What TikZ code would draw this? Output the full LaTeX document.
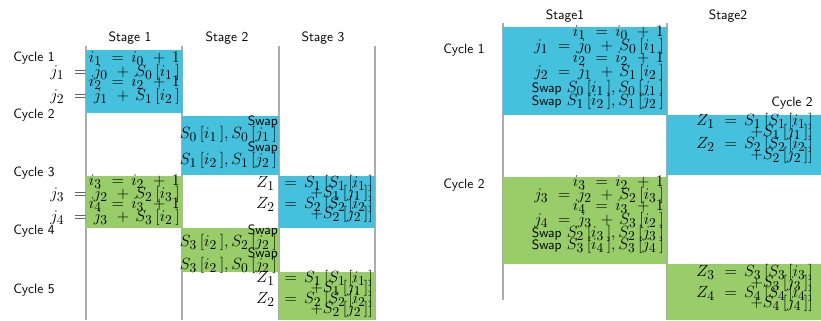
\documentclass[tikz,border=0pt]{standalone}
\usepackage{fontspec}
\definecolor{stageblue}{RGB}{70,193,221}
\definecolor{stagegreen}{RGB}{152,205,106}
\DeclareMathSizes{12}{12}{10}{8}
\thickmuskip=8mu plus 2mu
\medmuskip=7mu plus 2mu
\scriptspace=2.5pt
\begin{document}
\begin{tikzpicture}[x=0.74pt,y=-0.74pt,
    col/.style={draw=gray!65,line width=1.3pt},
    blubox/.style={fill=stageblue},
    grnbox/.style={fill=stagegreen},
    lbl/.style={font=\sffamily,inner sep=0pt},
    eq/.style={anchor=east,inner sep=0pt,font=\fontsize{12}{12}\selectfont}]
    \useasboundingbox (0,0) rectangle (821,320);
    % left schedule
    \foreach \xc in {86,182,279,375}
        \draw[col] (\xc,46) -- (\xc,320);
    \node[lbl] (ls1) at (130,38) {Stage 1};
    \node[lbl] (ls2) at (227,38) {Stage 2};
    \node[lbl] (ls3) at (323,38) {Stage 3};
    \node[lbl,anchor=west] (lc1) at (13,58) {Cycle 1};
    \node[lbl,anchor=west] (lc2) at (13,115) {Cycle 2};
    \node[lbl,anchor=west] (lc3) at (13,173) {Cycle 3};
    \node[lbl,anchor=west] (lc4) at (13,231) {Cycle 4};
    \node[lbl,anchor=west] (lc5) at (13,290) {Cycle 5};
    \fill[blubox] (86,50) rectangle (183,113);
    \fill[blubox] (182,116) rectangle (279,175);
    \fill[blubox] (279,176) rectangle (375,228);
    \fill[grnbox] (86,176) rectangle (183,228);
    \fill[grnbox] (182,228) rectangle (279,272);
    \fill[grnbox] (279,272) rectangle (375,320);
    % stage 1
    \node[eq] (la1) at (180,59) {$i_1 = i_0 + 1$};
    \node[eq] (la2) at (180,72) {$j_1 = j_0 + S_0[i_1]$};
    \node[eq] (la3) at (180,83) {$i_2 = i_2 + 1$};
    \node[eq] (la4) at (180,96) {$j_2 = j_1 + S_1[i_2]$};
    \node[eq] (ld1) at (180,182) {$i_3 = i_2 + 1$};
    \node[eq] (ld2) at (180,194) {$j_3 = j_2 + S_2[i_3]$};
    \node[eq] (ld3) at (180,205) {$i_4 = i_3 + 1$};
    \node[eq] (ld4) at (180,217) {$j_4 = j_3 + S_3[i_2]$};
    % stage 2
    \node[lbl,anchor=east] (lb1) at (278,122) {Swap};
    \node[eq] (lb2) at (277,134) {$S_0[i_1], S_0[j_1]$};
    \node[lbl,anchor=east] (lb3) at (278,148) {Swap};
    \node[eq] (lb4) at (277,160) {$S_1[i_2], S_1[j_2]$};
    \node[lbl,anchor=east] (le1) at (278,231) {Swap};
    \node[eq] (le2) at (277,242) {$S_3[i_2], S_2[j_2]$};
    \node[lbl,anchor=east] (le3) at (278,254) {Swap};
    \node[eq] (le4) at (277,265) {$S_3[i_2], S_0[j_2]$};
    % stage 3
    \node[eq] (lc1z) at (373,183) {$Z_1 = S_1[S_1[i_1]$};
    \node[eq] (lc2z) at (373,193) {$+S_1[j_1]]$};
    \node[eq] (lc3z) at (373,204) {$Z_2 = S_2[S_2[i_2]$};
    \node[eq] (lc4z) at (373,214) {$+S_2[j_2]]$};
    \node[eq] (lf1) at (373,278) {$Z_1 = S_1[S_1[i_1]$};
    \node[eq] (lf2) at (373,288) {$+S_1[j_1]]$};
    \node[eq] (lf3) at (373,299) {$Z_2 = S_2[S_2[i_2]$};
    \node[eq] (lf4) at (373,309) {$+S_2[j_2]]$};
    % right schedule
    \draw[col] (503,23) -- (503,300);
    \draw[col] (667,23) -- (667,320);
    \node[lbl] (rs1) at (565,16) {Stage1};
    \node[lbl] (rs2) at (728,16) {Stage2};
    \node[lbl,anchor=west] (rc1) at (443,50) {Cycle 1};
    \node[lbl,anchor=east] (rc2a) at (813,103) {Cycle 2};
    \node[lbl,anchor=west] (rc2b) at (443,185) {Cycle 2};
    \fill[blubox] (503,27) rectangle (667,115);
    \fill[blubox] (667,115) rectangle (821,175);
    \fill[grnbox] (503,177) rectangle (667,264);
    \fill[grnbox] (667,264) rectangle (821,320);
    \node[eq] (rg1) at (664,33) {$i_1 = i_0 + 1$};
    \node[eq] (rg2) at (664,46) {$j_1 = j_0 + S_0[i_1]$};
    \node[eq] (rg3) at (664,59) {$i_2 = i_2 + 1$};
    \node[eq] (rg4) at (664,72) {$j_2 = j_1 + S_1[i_2]$};
    \node[eq] (rg5) at (664,88) {{\normalsize\sffamily Swap} $S_0[i_1], S_0[j_1]$};
    \node[eq] (rg6) at (664,101) {{\normalsize\sffamily Swap} $S_1[i_2], S_1[j_2]$};
    \node[eq] (rh1) at (813,121) {$Z_1 = S_1[S_1[i_1]$};
    \node[eq] (rh2) at (813,132) {$+S_1[j_1]]$};
    \node[eq] (rh3) at (813,144) {$Z_2 = S_2[S_2[i_2]$};
    \node[eq] (rh4) at (813,155) {$+S_2[j_2]]$};
    \node[eq] (ri1) at (664,183) {$i_3 = i_2 + 1$};
    \node[eq] (ri2) at (664,195) {$j_3 = j_2 + S_2[i_3]$};
    \node[eq] (ri3) at (664,207) {$i_4 = i_3 + 1$};
    \node[eq] (ri4) at (664,220) {$j_4 = j_3 + S_3[i_2]$};
    \node[eq] (ri5) at (664,233) {{\normalsize\sffamily Swap} $S_2[i_3], S_2[j_3]$};
    \node[eq] (ri6) at (664,245) {{\normalsize\sffamily Swap} $S_3[i_4], S_3[j_4]$};
    \node[eq] (rj1) at (813,272) {$Z_3 = S_3[S_3[i_3]$};
    \node[eq] (rj2) at (813,283) {$+S_3[j_3]]$};
    \node[eq] (rj3) at (813,293) {$Z_4 = S_4[S_4[i_4]$};
    \node[eq] (rj4) at (813,303) {$+S_4[j_4]]$};
\end{tikzpicture}
\end{document}
